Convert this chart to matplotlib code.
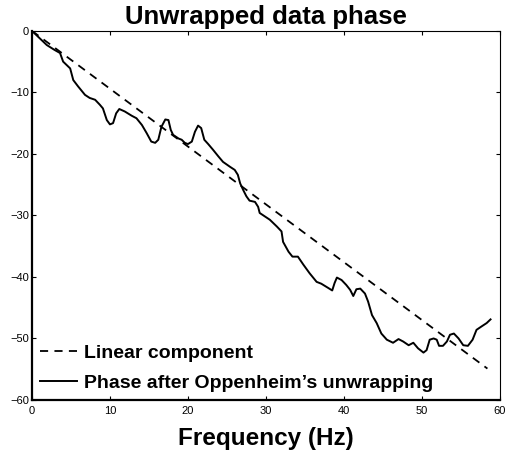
import matplotlib
matplotlib.use('Agg')
import matplotlib.pyplot as plt

plt.rcParams['font.family'] = ['Liberation Sans', 'DejaVu Sans']

# linear component (start / end)
lin_f = [0.0, 58.4]
lin_p = [0.0, -54.9]

# phase after unwrapping
freq = [0.0, 1.9, 2.9, 3.6, 4.0, 4.9, 5.3, 5.9, 6.8, 7.4, 8.1, 8.7, 9.1, 9.6,
        10.0, 10.4, 10.8, 11.2, 11.9, 12.8, 13.4, 14.1, 14.7, 15.3, 15.8, 16.2,
        16.6, 17.1, 17.5, 17.8, 18.1, 18.8, 19.2, 19.6, 20.0, 20.5, 20.9, 21.3,
        21.7, 22.1, 22.6, 23.2, 23.9, 24.5, 25.4, 26.0, 26.4, 26.7, 27.1, 27.5,
        27.9, 28.6, 29.0, 29.2, 30.5, 31.4, 32.0, 32.2, 32.9, 33.4, 34.1, 34.8,
        35.6, 36.5, 37.1, 38.0, 38.5, 38.8, 39.1, 39.7, 40.3, 40.8, 41.2, 41.6,
        42.1, 42.7, 43.1, 43.6, 44.2, 44.8, 45.5, 46.3, 47.0, 47.6, 48.3, 48.9,
        49.5, 50.2, 50.6, 51.0, 51.5, 51.9, 52.2, 52.7, 53.2, 53.6, 54.1, 54.7,
        55.3, 55.9, 56.5, 57.0, 57.7, 58.3, 58.8]
phase = [0.0, -2.3, -3.1, -3.6, -5.0, -6.1, -8.0, -9.0, -10.4, -10.9, -11.2,
         -12.0, -12.6, -14.5, -15.2, -15.0, -13.4, -12.7, -13.1, -13.8, -14.2,
         -15.3, -16.6, -18.0, -18.2, -17.7, -15.6, -14.4, -14.5, -16.1, -16.9,
         -17.5, -17.7, -18.2, -18.4, -18.0, -16.4, -15.4, -15.8, -17.7, -18.4,
         -19.3, -20.4, -21.3, -22.1, -22.6, -23.4, -24.8, -25.9, -26.9, -27.6,
         -27.8, -28.6, -29.6, -30.7, -31.8, -32.6, -34.3, -35.9, -36.7, -36.7,
         -38.0, -39.4, -40.8, -41.1, -41.8, -42.2, -41.0, -40.1, -40.5, -41.3,
         -42.1, -43.1, -42.0, -41.9, -42.7, -44.0, -46.2, -47.5, -49.2, -50.2,
         -50.7, -50.1, -50.5, -51.1, -50.7, -51.6, -52.3, -51.9, -50.2, -50.0,
         -50.2, -51.2, -51.2, -50.5, -49.4, -49.2, -50.0, -51.1, -51.2, -50.2,
         -48.6, -48.0, -47.5, -46.9]

fig = plt.figure(figsize=(5.07, 4.54), dpi=100)
ax = fig.add_axes([0.063, 0.119, 0.923, 0.813])
ax.plot(lin_f, lin_p, 'k--', lw=1.3, dashes=(4.5, 3.5), label='Linear component')
ax.plot(freq, phase, 'k-', lw=1.4, label="Phase after Oppenheim\u2019s unwrapping")
ax.set_xlim(0, 60)
ax.set_ylim(-60, 0)
ax.set_xticks([0, 10, 20, 30, 40, 50, 60])
ax.set_yticks([0, -10, -20, -30, -40, -50, -60])
ax.tick_params(direction='in', top=True, right=True, labelsize=8, length=3)
ax.tick_params(axis='x', pad=4)
ax.tick_params(axis='y', pad=2)
ax.spines['left'].set_linewidth(1.6)
ax.spines['bottom'].set_linewidth(1.6)
ax.spines['top'].set_linewidth(0.8)
ax.spines['right'].set_linewidth(0.8)
ax.set_title('Unwrapped data phase', fontsize=18.5, fontweight='bold', pad=5)
ax.set_xlabel('Frequency (Hz)', fontsize=17.5, fontweight='bold', labelpad=8)
ax.legend(loc='lower left', frameon=False, prop={'weight': 'bold', 'size': 14},
          handlelength=1.9, handletextpad=0.4, borderaxespad=0.1,
          borderpad=0.3, labelspacing=0.65)
fig.savefig('out.png', dpi=100)
